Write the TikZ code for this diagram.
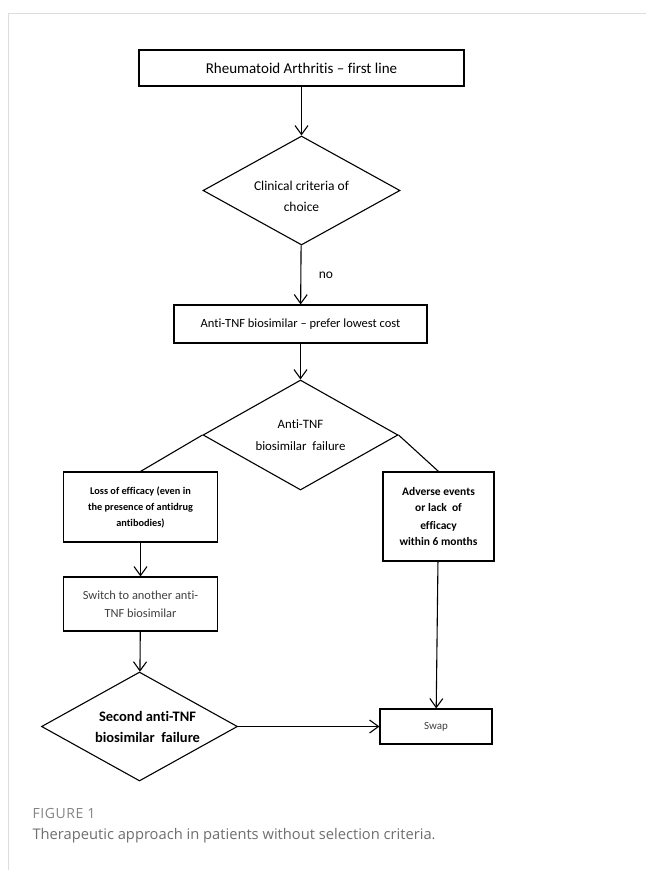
\documentclass[tikz,border=0pt]{standalone}
\usepackage{fontspec}
\setmainfont{Carlito}[Ligatures = CommonOff]
\newfontfamily\captionfont{Open Sans}
\usetikzlibrary{shapes.geometric, arrows.meta}

\definecolor{framegray}{HTML}{DDDDDD}
\definecolor{captiongray}{HTML}{6E6E6E}

\tikzset{
	box/.style = {draw, rectangle, align = center, inner sep = 1pt},
	choice/.style = {draw, diamond, aspect = 1.8, align = center, inner sep = 0pt},
	link/.style = {->}
}

\begin{document}
\begin{tikzpicture}[x = 1pt, y = -1pt, > = {Straight Barb[length = 9pt, width = 13pt]}, line width = 1.1pt, font = \fontsize{12.5}{15}\selectfont]

	\useasboundingbox (0, 0) rectangle (646, 870);

	% Page frame
	
	\draw [framegray, line width = 0.8pt] (646, 13) -- (8, 13) -- (8, 870);
	
	% Main column
	
	\node [box, minimum width = 325pt, minimum height = 36pt, font = \fontsize{15}{17}\selectfont] (ra) at (301.5, 68) {Rheumatoid Arthritis -- first line};
	\node [choice, minimum width = 197pt, minimum height = 109pt, font = \fontsize{13.5}{21}\selectfont] (clin) at (301.5, 190.5) {\rule{0pt}{21pt}Clinical criteria of\\choice};
	\node [box, minimum width = 253pt, minimum height = 38pt] (anti) at (300.5, 324) {Anti-TNF biosimilar -- prefer lowest cost};
	\node [choice, minimum width = 195pt, minimum height = 110pt, font = \fontsize{12.8}{22}\selectfont] (fail) at (300.5, 435) {Anti-TNF\\biosimilar~ failure};
	
	% Left branch
	
	\node [box, minimum width = 154pt, minimum height = 70pt, font = \fontsize{10.3}{16}\selectfont\bfseries] (loss) at (140.5, 507) {Loss of efficacy (even in\\the presence of antidrug\\antibodies)};
	\node [box, minimum width = 154pt, minimum height = 54pt, font = \fontsize{12.4}{18}\selectfont, text = black!75] (switch) at (140.5, 604) {Switch to another anti-\\TNF biosimilar};
	\node [choice, minimum width = 196pt, minimum height = 109pt, font = \fontsize{14.5}{21}\selectfont\bfseries] (second) at (139.5, 726.5) {\hspace*{16pt}Second anti-TNF\\\hspace*{16pt}biosimilar~ failure};
	
	% Right branch
	
	\node [box, minimum width = 111pt, minimum height = 89pt, font = \fontsize{11.5}{17}\selectfont\bfseries] (adv) at (438.5, 516.5) {Adverse events\\or lack~ of\\efficacy\\within 6 months};
	\node [box, minimum width = 112pt, minimum height = 35pt, font = \fontsize{11}{13}\selectfont, text = black!75] (swap) at (436, 726.5) {Swap};
	
	% Connectors
	
	\draw [link] (ra) -- (clin);
	\draw [link] (clin) -- node [midway, right, xshift = 14pt, font = \fontsize{13.5}{15}\selectfont] {no} (anti);
	\draw [link] (anti) -- (fail);
	\draw (fail.west) -- (loss.north);
	\draw (fail.east) -- (adv.north);
	\draw [link] (loss) -- (switch);
	\draw [link] (switch) -- (second);
	\draw [link] (second.east) -- (swap.west);
	\draw [link] (adv) -- (swap);
	
	% Caption
	
	\node [anchor = west, inner sep = 0pt, text = captiongray!85, font = \captionfont\fontsize{14}{16}\selectfont\addfontfeature{LetterSpace = 4}] (fig) at (32, 813) {FIGURE 1};
	\node [anchor = west, inner sep = 0pt, text = captiongray, font = \captionfont\fontsize{14.7}{17}\selectfont] (cap) at (32, 836) {Therapeutic approach in patients without selection criteria.};

\end{tikzpicture}
\end{document}
